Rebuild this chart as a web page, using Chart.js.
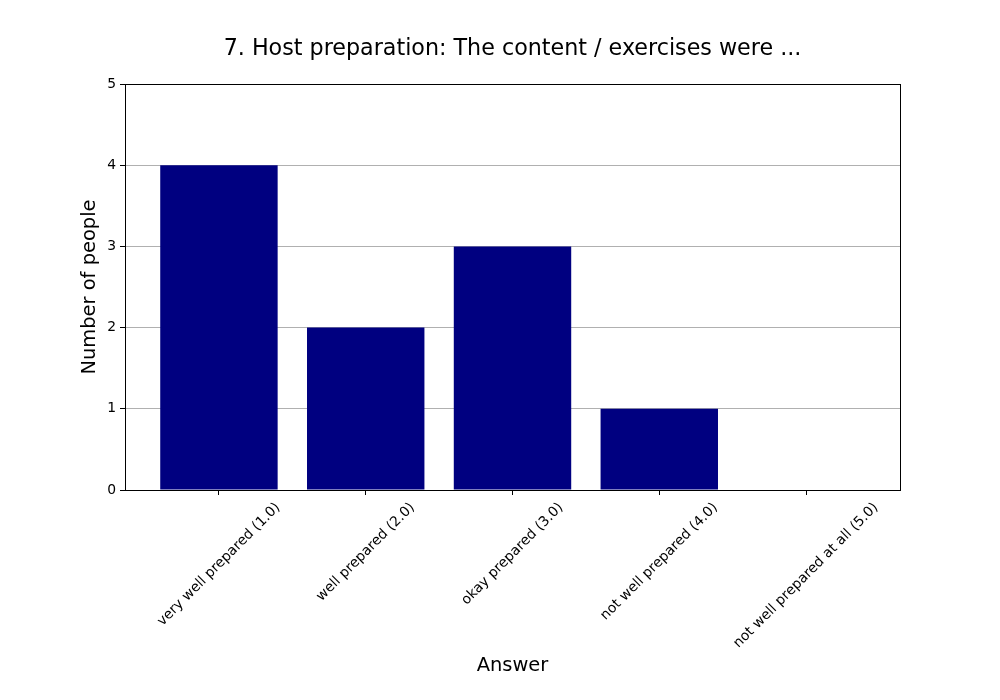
<!DOCTYPE html>
<html>
<head>
<meta charset="utf-8">
<script src="https://cdn.jsdelivr.net/npm/chart.js@4.4.1/dist/chart.umd.min.js"></script>
<style>
  html, body { margin: 0; padding: 0; background: #ffffff; }
  #wrap { width: 1000px; height: 700px; }
</style>
</head>
<body>
<div id="wrap"><canvas id="c" width="1000" height="700"></canvas></div>
<script>
const chartTitle = "7. Host preparation: The content / exercises were ...";
const categories = [
  "very well prepared (1.0)",
  "well prepared (2.0)",
  "okay prepared (3.0)",
  "not well prepared (4.0)",
  "not well prepared at all (5.0)"
];
const counts = [4, 2, 3, 1, 0];
const yTicks = [0, 1, 2, 3, 4, 5];
const xTitle = "Answer";
const yTitle = "Number of people";

const FONT = "'DejaVu Sans', sans-serif";
const TICK_SIZE = 13.89;
const LABEL_SIZE = 19.44;
const TITLE_SIZE = 22.22;

const decorPlugin = {
  id: 'decor',
  afterDraw(chart) {
    const ctx = chart.ctx;
    const a = chart.chartArea;
    const xs = chart.scales.x;
    ctx.save();
    // frame
    ctx.strokeStyle = '#000000';
    ctx.lineWidth = 1;
    ctx.strokeRect(Math.round(a.left) + 0.5, Math.round(a.top) + 0.5,
                   Math.round(a.right - a.left), Math.round(a.bottom - a.top));
    ctx.fillStyle = '#000000';
    // title
    ctx.font = TITLE_SIZE + 'px ' + FONT;
    ctx.textAlign = 'center';
    ctx.textBaseline = 'alphabetic';
    ctx.fillText(chartTitle, (a.left + a.right) / 2, 55);
    // x title
    ctx.font = LABEL_SIZE + 'px ' + FONT;
    ctx.fillText(xTitle, (a.left + a.right) / 2, 671);
    // y title
    ctx.save();
    ctx.translate(90, (a.top + a.bottom) / 2);
    ctx.rotate(-Math.PI / 2);
    ctx.textBaseline = 'middle';
    ctx.fillText(yTitle, 0, 0);
    ctx.restore();
    // x tick labels, rotated 45deg, bbox centered on tick
    ctx.font = TICK_SIZE + 'px ' + FONT;
    const h = TICK_SIZE * 1.164;
    categories.forEach((lab, i) => {
      const x = xs.getPixelForValue(i);
      const w = ctx.measureText(lab).width;
      const half = (w + h) * Math.SQRT1_2 / 2;
      const cy = a.bottom + 4.86 + 4.86 + half;
      ctx.save();
      ctx.translate(x, cy);
      ctx.rotate(-Math.PI / 4);
      ctx.textAlign = 'center';
      ctx.textBaseline = 'middle';
      ctx.fillText(lab, 0, 0);
      ctx.restore();
    });
    ctx.restore();
  }
};

new Chart(document.getElementById('c'), {
  type: 'bar',
  data: {
    datasets: [{
      data: counts.map((v, i) => ({ x: i, y: v })),
      backgroundColor: '#000080',
      borderWidth: 0,
      categoryPercentage: 0.8,
      barPercentage: 1.0
    }]
  },
  options: {
    responsive: false,
    animation: false,
    devicePixelRatio: 1,
    layout: { padding: { top: 84, right: 100, left: 0, bottom: 0 } },
    plugins: { legend: { display: false }, title: { display: false }, tooltip: { enabled: false } },
    scales: {
      x: {
        type: 'linear',
        offset: false,
        min: -0.64,
        max: 4.64,
        afterBuildTicks(scale) { scale.ticks = categories.map((c, i) => ({ value: i })); },
        afterFit(scale) { scale.height = 210; },
        ticks: { display: false },
        grid: { display: true, offset: false, drawOnChartArea: false, drawTicks: true, tickLength: 5, tickColor: '#000000', tickWidth: 1 },
        border: { display: true, color: '#000000', width: 1 }
      },
      y: {
        min: 0,
        max: 5,
        afterBuildTicks(scale) { scale.ticks = yTicks.map(v => ({ value: v })); },
        afterFit(scale) { scale.width = 125; },
        ticks: { color: '#000000', font: { family: FONT, size: TICK_SIZE }, padding: 4, stepSize: 1 },
        grid: { color: '#b0b0b0', lineWidth: 1, drawTicks: true, tickLength: 5, tickColor: '#000000', tickWidth: 1 },
        border: { display: true, color: '#000000', width: 1 }
      }
    }
  },
  plugins: [decorPlugin]
});
</script>
</body>
</html>
